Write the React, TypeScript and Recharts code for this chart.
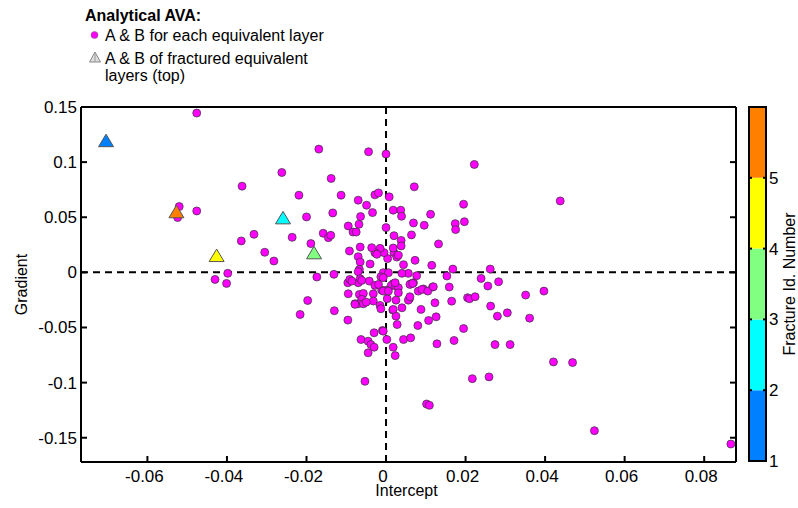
import {
  ComposedChart,
  Label,
  Legend,
  ReferenceArea,
  ReferenceLine,
  Scatter,
  ScatterChart,
  XAxis,
  YAxis,
} from "recharts";

// intercept (A), gradient (B) for each equivalent layer
const layerAB: [number, number][] = [
  [-0.0476, 0.1445], [-0.052, 0.0597], [-0.0524, 0.0497], [-0.0476, 0.0557],
  [-0.0362, 0.0782], [-0.0364, 0.0285], [-0.0332, 0.0345], [-0.0305, 0.0182],
  [-0.0282, 0.0103], [-0.0262, 0.0906], [-0.0236, 0.0318], [-0.0219, 0.07],
  [-0.02, 0.0503], [-0.0189, 0.0261], [-0.0169, 0.1118], [-0.0158, 0.0355],
  [-0.0145, 0.0315], [-0.0139, 0.0336], [-0.0138, 0.0852], [-0.0134, 0.0539],
  [-0.0113, 0.07], [-0.0174, -0.0042], [-0.0131, -0.0018], [-0.0095, 0.0421],
  [-0.0092, 0.0194], [-0.007, 0.0655], [-0.0068, 0.0436], [-0.0064, 0.0506],
  [-0.0083, 0.0366], [-0.0075, 0.0366], [-0.0065, 0.023], [-0.007, 0.0142],
  [-0.0065, 0.0094], [-0.0067, 0.0027], [-0.0049, 0.0609], [-0.0044, 0.1094],
  [-0.0034, 0.0542], [-0.004, 0.0076], [-0.0028, 0.0703], [-0.0019, 0.0721],
  [0.0, 0.1073], [0.0, 0.0406], [0.0008, 0.0685], [0.0018, 0.0564],
  [0.0037, 0.0564], [0.0039, 0.0509], [0.002, 0.0333], [0.0038, 0.029],
  [0.0038, 0.024], [0.0064, 0.034], [0.0069, 0.0448], [0.0096, 0.0427],
  [0.0112, 0.0527], [0.0132, 0.0258], [0.0174, 0.0442], [0.0175, 0.0388],
  [0.0195, 0.0618], [0.0197, 0.046], [0.0071, 0.0776], [0.0222, 0.0979],
  [0.0438, 0.0648], [0.0073, 0.0109], [0.0115, 0.0064], [0.0168, 0.003],
  [0.0262, 0.003], [0.0239, -0.0055], [0.0283, -0.0085], [0.0153, -0.0033],
  [0.0159, -0.0133], [0.0117, -0.0133], [0.0094, -0.015], [0.0081, -0.017],
  [0.0062, -0.0105], [0.0069, -0.0094], [0.0077, -0.003], [0.0056, -0.0009],
  [0.004, -0.0009], [0.0044, 0.007], [0.002, 0.0179], [0.0027, 0.0139],
  [0.0031, 0.0155], [0.0004, 0.0125], [-0.0005, 0.0179], [-0.0015, 0.0218],
  [-0.0028, 0.0179], [-0.0023, 0.0164], [-0.0036, 0.0224], [0.0018, 0.0221],
  [-0.007, 0.0006], [-0.0007, -0.0003], [0.0006, -0.0003], [-0.0013, -0.004],
  [0.0018, -0.0103], [0.0013, -0.0119], [0.0024, -0.0124], [0.0031, -0.0139],
  [0.0023, -0.0094], [0.006, -0.0109], [0.0067, -0.01], [0.0031, -0.0185],
  [0.0002, -0.0161], [-0.0011, -0.0161], [0.0025, -0.0252], [0.0003, -0.0239],
  [0.0059, -0.0239], [0.0056, -0.0252], [0.006, -0.0221], [0.009, -0.0155],
  [0.0105, -0.017], [0.0119, -0.013], [0.0165, -0.0261], [0.0123, -0.0276],
  [0.0205, -0.023], [0.021, -0.0239], [0.0224, -0.0221], [0.0256, -0.0124],
  [0.0351, -0.0206], [0.0397, -0.017], [0.0263, -0.0306], [0.028, -0.0397],
  [0.0305, -0.0367], [0.0361, -0.0415], [0.0195, -0.0509], [0.0126, -0.0403],
  [0.0107, -0.0436], [0.0088, -0.0336], [0.004, -0.0321], [0.0017, -0.0342],
  [0.0025, -0.0397], [0.0028, -0.0473], [0.008, -0.0482], [-0.0009, -0.0527],
  [0.0002, -0.0609], [0.0044, -0.0609], [0.0062, -0.0594], [0.0128, -0.0648],
  [0.0171, -0.0618], [0.0274, -0.0655], [0.0312, -0.0655], [0.0018, -0.0679],
  [0.0023, -0.0755], [0.0421, -0.0812], [0.0469, -0.0818], [0.0217, -0.0964],
  [0.0259, -0.0948], [0.0102, -0.1194], [0.0109, -0.1206], [0.0524, -0.1436],
  [0.0867, -0.1557], [-0.043, -0.0064], [-0.0398, -0.0009], [-0.0401, -0.01],
  [-0.0197, -0.0255], [-0.0216, -0.0382], [-0.013, -0.0348], [-0.0096, -0.0433],
  [-0.0096, -0.0094], [-0.0091, -0.0064], [-0.0095, -0.0194], [-0.007, -0.0094],
  [-0.0065, -0.0058], [-0.0061, -0.0073], [-0.0086, -0.0079], [-0.0042, -0.0079],
  [-0.0028, -0.0118], [-0.0019, -0.0109], [-0.0032, -0.0194], [-0.0032, -0.026],
  [-0.0015, -0.03], [-0.0013, -0.033], [-0.0007, -0.017], [-0.0007, -0.0048],
  [0.0006, -0.017], [0.0018, -0.0336], [-0.0007, -0.0533], [-0.003, -0.0548],
  [-0.0063, -0.0609], [-0.0045, -0.0624], [-0.0038, -0.0655], [-0.003, -0.0679],
  [-0.0045, -0.073], [-0.0053, -0.0988], [-0.0067, -0.02], [-0.0057, -0.0191],
  [-0.0061, -0.0245], [-0.007, -0.0285], [-0.0057, -0.0285], [-0.005, -0.027],
  [-0.0078, -0.0285], [-0.0078, -0.029],
];

// fractured equivalent layers (top)
const fractureId = [1, 2, 3, 4, 5];
const fractureIntercept = [-0.0704, -0.0259, -0.0181, -0.0426, -0.0527];
const fractureGradient = [0.119, 0.049, 0.0173, 0.0148, 0.0545];
const fractureColors = ["#0080ff", "#00ffff", "#80ff80", "#ffff00", "#ff8000"];

const xTicks = [-0.06, -0.04, -0.02, 0, 0.02, 0.04, 0.06, 0.08];
const yTicks = [-0.15, -0.1, -0.05, 0, 0.05, 0.1, 0.15];
const cbTicks = [1, 2, 3, 4, 5];

const FONT = "'Liberation Sans', Arial, sans-serif";
const xDomain = [-0.0767, 0.088];
const yDomain = [-0.172, 0.15];
const axisStroke = { stroke: "#000", strokeWidth: 2 };

const fmt = (v: number) => (v === 0 ? "0" : String(Number(v.toFixed(2))));

const layerData = layerAB.map(([a, b]) => ({ a, b }));
const fractureData = fractureId.map((id, i) => ({
  a: fractureIntercept[i],
  b: fractureGradient[i],
  id,
}));

const BottomTick = ({ x, y, payload }: any) => (
  <g>
    <line x1={x} y1={y} x2={x} y2={y - 6} stroke="#000" strokeWidth={2} />
    <text x={x - 3} y={y + 20} textAnchor="middle" fontSize={17} fontFamily={FONT} fill="#000">
      {fmt(payload.value)}
    </text>
  </g>
);
const TopTick = ({ x, y }: any) => (
  <line x1={x} y1={y} x2={x} y2={y + 6} stroke="#000" strokeWidth={2} />
);
const LeftTick = ({ x, y, payload }: any) => (
  <g>
    <line x1={x} y1={y} x2={x + 6} y2={y} stroke="#000" strokeWidth={2} />
    <text x={x - 4} y={y + 6} textAnchor="end" fontSize={17} fontFamily={FONT} fill="#000">
      {fmt(payload.value)}
    </text>
  </g>
);
const RightTick = ({ x, y }: any) => (
  <line x1={x} y1={y} x2={x - 6} y2={y} stroke="#000" strokeWidth={2} />
);

const LayerDot = ({ cx, cy }: any) => (
  <circle cx={cx} cy={cy} r={4} fill="#ff00ff" stroke="#333" strokeWidth={0.7} />
);
const FractureTri = ({ cx, cy, payload }: any) => (
  <polygon
    points={`${cx},${cy - 7} ${cx - 7.5},${cy + 5.5} ${cx + 7.5},${cy + 5.5}`}
    fill={fractureColors[payload.id - 1]}
    stroke="#555"
    strokeWidth={1}
  />
);

const LegendBox = () => (
  <svg width={360} height={92} style={{ fontFamily: FONT }}>
    <text x={85} y={21} fontSize={16} fontWeight="bold" fill="#000">
      Analytical AVA:
    </text>
    <circle cx={94.5} cy={35} r={3.5} fill="#ff00ff" stroke="#666" strokeWidth={0.5} />
    <text x={105} y={41} fontSize={16} fill="#000">
      A &amp; B for each equivalent layer
    </text>
    <polygon points="95,52 89.5,62 100.5,62" fill="#ddd" stroke="#888" strokeWidth={1} />
    <line x1={95} y1={53} x2={95} y2={62} stroke="#999" strokeWidth={1} />
    <text x={105} y={63.5} fontSize={16} fill="#000">
      A &amp; B of fractured equivalent
    </text>
    <text x={105} y={81} fontSize={16} fill="#000">
      layers (top)
    </text>
  </svg>
);

const CB_LEFT = 740;
const CB_WIDTH = 17;

const CbTick = ({ x, y, payload }: any) => (
  <g>
    <line x1={x} y1={y} x2={x - 3} y2={y} stroke="#000" strokeWidth={2} />
    <line x1={x - CB_WIDTH} y1={y} x2={x - CB_WIDTH + 3} y2={y} stroke="#000" strokeWidth={2} />
    <text x={x + 3} y={y + 6} fontSize={17} fontFamily={FONT} fill="#000">
      {payload.value}
    </text>
  </g>
);

export default function App() {
  return (
    <div style={{ position: "absolute", left: 0, top: 0, width: 798, height: 508, background: "#fff" }}>
      <ScatterChart
        width={798}
        height={508}
        margin={{ top: 106, right: 61, bottom: 6, left: 21 }}
        style={{ position: "absolute", left: 0, top: 0 }}
      >
        <XAxis
          dataKey="a"
          type="number"
          domain={xDomain}
          ticks={xTicks}
          allowDataOverflow
          interval={0}
          height={40}
          tickSize={0}
          tickMargin={0}
          tickLine={false}
          axisLine={axisStroke}
          tick={BottomTick}
        >
          <Label
            content={({ viewBox }: any) => (
              <text
                x={viewBox.x + viewBox.width / 2 - 2}
                y={viewBox.y + 34}
                textAnchor="middle"
                fontSize={16}
                fontFamily={FONT}
                fill="#000"
              >
                Intercept
              </text>
            )}
          />
        </XAxis>
        <XAxis
          xAxisId="top"
          orientation="top"
          type="number"
          domain={xDomain}
          ticks={xTicks}
          allowDataOverflow
          interval={0}
          height={1}
          tickSize={0}
          tickMargin={0}
          tickLine={false}
          axisLine={axisStroke}
          tick={TopTick}
        />
        <YAxis
          dataKey="b"
          type="number"
          domain={yDomain}
          ticks={yTicks}
          allowDataOverflow
          interval={0}
          width={60}
          tickSize={0}
          tickMargin={0}
          tickLine={false}
          axisLine={axisStroke}
          tick={LeftTick}
        >
          <Label
            content={({ viewBox }: any) => {
              const cy = viewBox.y + viewBox.height / 2;
              return (
                <text
                  x={27}
                  y={cy}
                  transform={`rotate(-90 27 ${cy})`}
                  textAnchor="middle"
                  fontSize={16}
                  fontFamily={FONT}
                  fill="#000"
                >
                  Gradient
                </text>
              );
            }}
          />
        </YAxis>
        <YAxis
          yAxisId="right"
          orientation="right"
          type="number"
          domain={yDomain}
          ticks={yTicks}
          allowDataOverflow
          interval={0}
          width={1}
          tickSize={0}
          tickMargin={0}
          tickLine={false}
          axisLine={axisStroke}
          tick={RightTick}
        />
        <ReferenceLine x={0} stroke="#000" strokeWidth={2} strokeDasharray="7 5" />
        <ReferenceLine y={0} stroke="#000" strokeWidth={2} strokeDasharray="7 5" />
        <Scatter data={layerData} shape={LayerDot} isAnimationActive={false} />
        <Scatter data={fractureData} shape={FractureTri} isAnimationActive={false} />
        <Legend
          layout="horizontal"
          verticalAlign="middle"
          align="center"
          wrapperStyle={{ position: "absolute", left: 0, top: 0, width: 360, height: 92 }}
          content={LegendBox}
        />
      </ScatterChart>

      <ComposedChart
        width={58}
        height={508}
        data={fractureId.map((id) => ({ id }))}
        margin={{ top: 107, right: 0, bottom: 47, left: 9 }}
        style={{ position: "absolute", left: CB_LEFT, top: 0 }}
      >
        <XAxis type="number" dataKey="id" domain={[0, 1]} hide allowDataOverflow />
        <YAxis
          orientation="right"
          type="number"
          domain={[1, 6]}
          ticks={cbTicks}
          allowDataOverflow
          interval={0}
          width={32}
          tickSize={0}
          tickMargin={0}
          tickLine={false}
          axisLine={false}
          tick={CbTick}
        >
          <Label
            content={({ viewBox }: any) => {
              const cy = viewBox.y + viewBox.height / 2;
              const lx = viewBox.x + 29;
              return (
                <text
                  x={lx}
                  y={cy}
                  transform={`rotate(-90 ${lx} ${cy})`}
                  textAnchor="middle"
                  fontSize={16}
                  fontFamily={FONT}
                  fill="#000"
                >
                  Fracture Id. Number
                </text>
              );
            }}
          />
        </YAxis>
        {fractureId.map((id, i) => (
          <ReferenceArea
            key={id}
            x1={0}
            x2={1}
            y1={id}
            y2={id + 1}
            fill={fractureColors[i]}
            fillOpacity={1}
            stroke="none"
          />
        ))}
        <ReferenceArea x1={0} x2={1} y1={1} y2={6} fill="none" stroke="#000" strokeWidth={2} />
      </ComposedChart>
    </div>
  );
}
